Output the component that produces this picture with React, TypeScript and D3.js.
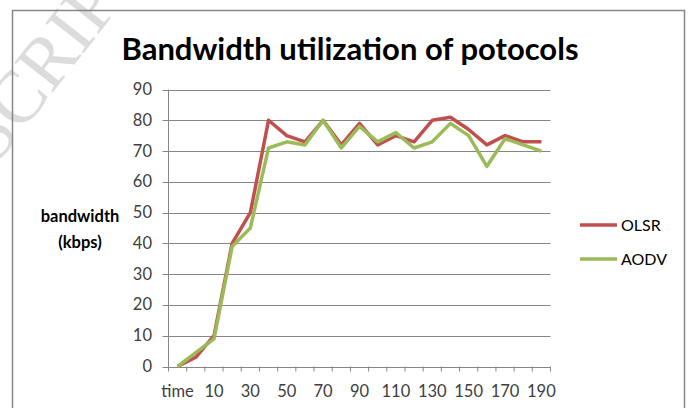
import React from "react";
import * as d3 from "d3";

const categories = ["time", "0", "10", "20", "30", "40", "50", "60", "70", "80", "90", "100", "110", "120", "130", "140", "150", "160", "170", "180", "190"];
const olsr = [0, 3, 10, 40, 50, 80, 75, 73, 80, 72, 79, 72, 75, 73, 80, 81, 77, 72, 75, 73, 73];
const aodv = [0, 4.5, 9, 39, 45, 71, 73, 72, 80, 71, 78, 73, 76, 71, 73, 79, 75, 65, 74, 72, 70];
const yTicks = [0, 10, 20, 30, 40, 50, 60, 70, 80, 90];
const seriesNames = ["OLSR", "AODV"];
const seriesColors = ["#C0504D", "#9BBB59"];

const W = 688;
const H = 408;
const left = 168.5;
const right = 550.5;
const top = 89.5;
const bottom = 366.5;
const FONT = "Lato, 'Open Sans', sans-serif";

export default function App() {
  const x = d3.scaleBand<string>().domain(categories).range([left, right]).padding(0);
  const y = d3.scaleLinear().domain([0, 90]).range([bottom, top]);
  const cx = (c: string) => (x(c) as number) + x.bandwidth() / 2;
  const line = d3
    .line<number>()
    .x((_, i) => cx(categories[i]))
    .y((d) => y(d));
  const series = [olsr, aodv];

  return (
    <svg width={W} height={H} style={{ position: "fixed", left: 0, top: 0, display: "block" }}>
      <rect x={0} y={0} width={W} height={H} fill="#fff" />
      {/* watermark */}
      <text
        x={0}
        y={0}
        transform="translate(150,-32) rotate(-52)"
        textAnchor="end"
        fontFamily="'Liberation Serif', 'DejaVu Serif', serif"
        fontSize={74}
        fill="#dcdcdc"
      >
        ACCEPTED MANUSCRIPT
      </text>
      <rect x={12.5} y={10.5} width={672} height={420} fill="none" stroke="#868686" strokeWidth={1.5} />
      <text x={350} y={60} textAnchor="middle" fontFamily={FONT} fontWeight={700} fontSize={31} fill="#000">
        Bandwidth utilization of potocols
      </text>
      {/* grid */}
      {yTicks.map((t) => (
        <g key={t}>
          <line x1={left - 6} x2={right} y1={Math.round(y(t)) + 0.5} y2={Math.round(y(t)) + 0.5} stroke="#868686" strokeWidth={1} />
          <text x={152} y={y(t) + 5.5} textAnchor="end" fontFamily={FONT} fontSize={16.5} fill="#404040">
            {t}
          </text>
        </g>
      ))}
      <line x1={left} x2={left} y1={top} y2={bottom + 5} stroke="#868686" strokeWidth={1} />
      {categories.map((c) => (
        <line key={"t" + c} x1={(x(c) as number) + x.bandwidth()} x2={(x(c) as number) + x.bandwidth()} y1={bottom} y2={bottom + 5} stroke="#868686" strokeWidth={1} />
      ))}
      {categories.map((c, i) =>
        i % 2 === 0 ? (
          <text key={"l" + c} x={cx(c)} y={397} textAnchor="middle" fontFamily={FONT} fontSize={16.5} fill="#404040">
            {c}
          </text>
        ) : null
      )}
      {/* lines */}
      {series.map((s, i) => (
        <path key={i} d={line(s) as string} fill="none" stroke={seriesColors[i]} strokeWidth={3.5} strokeLinejoin="round" />
      ))}
      {/* y label */}
      <text x={80} y={222} textAnchor="middle" fontFamily={FONT} fontWeight={700} fontSize={16.5} fill="#000">
        bandwidth
      </text>
      <text x={80} y={248} textAnchor="middle" fontFamily={FONT} fontWeight={700} fontSize={16.5} fill="#000">
        (kbps)
      </text>
      {/* legend */}
      {seriesNames.map((n, i) => (
        <g key={n}>
          <line x1={580} x2={617} y1={225 + i * 34} y2={225 + i * 34} stroke={seriesColors[i]} strokeWidth={3.5} />
          <text x={621} y={230.5 + i * 34} fontFamily={FONT} fontSize={16} fill="#000">
            {n}
          </text>
        </g>
      ))}
    </svg>
  );
}
